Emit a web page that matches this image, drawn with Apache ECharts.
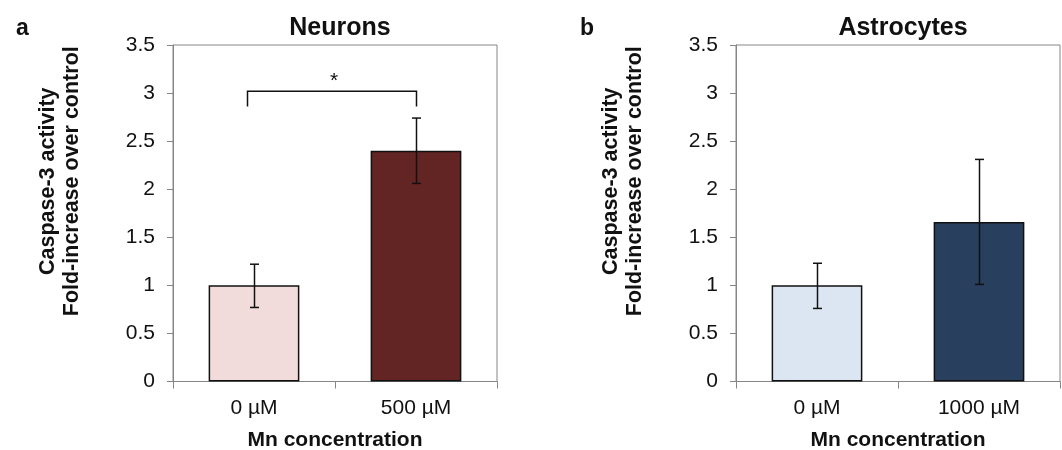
<!DOCTYPE html>
<html>
<head>
<meta charset="utf-8">
<script src="https://cdn.jsdelivr.net/npm/echarts@6/dist/echarts.min.js"></script>
<style>
html,body{margin:0;padding:0;background:#fff;}
#chart{width:1062px;height:450px;}
</style>
</head>
<body>
<div id="chart"></div>
<script>
// ---- data ----
var panelLabels = ['a', 'b'];
var panelTitles = ['Neurons', 'Astrocytes'];
var neuronCategories = ['0 µM', '500 µM'];
var neuronValues = [1.0, 2.40];
var neuronErrLow = [0.77, 2.06];
var neuronErrHigh = [1.22, 2.74];
var astroCategories = ['0 µM', '1000 µM'];
var astroValues = [1.0, 1.66];
var astroErrLow = [0.76, 1.01];
var astroErrHigh = [1.23, 2.31];
var neuronColors = ['#F2DCDB', '#632523'];
var astroColors = ['#DCE6F2', '#283F5E'];
var yTicks = [0, 0.5, 1, 1.5, 2, 2.5, 3, 3.5];
var yAxisName = 'Caspase-3 activity\nFold-increase over control';
var xAxisName = 'Mn concentration';
var sigBracket = { from: 0, to: 1, top: 3.02, legBottom: 2.86, label: '*' };

var FONT = '"Liberation Sans", Arial, sans-serif';
var chart = echarts.init(document.getElementById('chart'), null, {renderer: 'canvas'});

function xAxisCfg(idx, cats) {
  return {
    type: 'category', gridIndex: idx, data: cats,
    axisLine: {lineStyle: {color: '#868686', width: 1}},
    axisTick: {show: true, length: 7, lineStyle: {color: '#868686'}},
    axisLabel: {color: '#111', fontSize: 21, fontFamily: FONT, margin: 16},
    name: xAxisName, nameLocation: 'middle', nameGap: 48,
    nameTextStyle: {color: '#111', fontSize: 21, fontWeight: 'bold', fontFamily: FONT}
  };
}
function yAxisCfg(idx) {
  return {
    type: 'value', gridIndex: idx, min: yTicks[0], max: yTicks[yTicks.length - 1],
    interval: yTicks[1] - yTicks[0],
    splitLine: {show: false},
    axisLine: {show: true, lineStyle: {color: '#868686', width: 1}},
    axisTick: {show: true, length: 6, lineStyle: {color: '#868686'}},
    axisLabel: {color: '#111', fontSize: 21, fontFamily: FONT, margin: 18},
    name: yAxisName, nameLocation: 'middle', nameRotate: 90, nameGap: 89,
    nameTextStyle: {color: '#111', fontSize: 21.5, fontWeight: 'bold', fontFamily: FONT,
      lineHeight: 24, padding: [0, 0, 0, 64]}
  };
}
function barData(vals, cols) {
  return vals.map(function (v, i) {
    return {value: v, itemStyle: {color: cols[i], borderColor: '#111', borderWidth: 1.5}};
  });
}
function errData(lo, hi) {
  return lo.map(function (l, i) { return [i, l, hi[i]]; });
}
function errRender(params, api) {
  var lo = api.coord([api.value(0), api.value(1)]);
  var hi = api.coord([api.value(0), api.value(2)]);
  var x = Math.round(lo[0]) + 0.5, cap = 4.5;
  var st = {stroke: '#111', lineWidth: 1.5};
  return {type: 'group', children: [
    {type: 'line', shape: {x1: x, y1: lo[1], x2: x, y2: hi[1]}, style: st},
    {type: 'line', shape: {x1: x - cap, y1: hi[1], x2: x + cap, y2: hi[1]}, style: st},
    {type: 'line', shape: {x1: x - cap, y1: lo[1], x2: x + cap, y2: lo[1]}, style: st}
  ]};
}
function bracketRender(params, api) {
  var a = api.coord([sigBracket.from, sigBracket.legBottom]);
  var b = api.coord([sigBracket.from, sigBracket.top]);
  var c = api.coord([sigBracket.to, sigBracket.top]);
  var d = api.coord([sigBracket.to, sigBracket.legBottom]);
  var ax = Math.round(a[0]) - 6.5, dx = Math.round(d[0]) + 0.5;
  return {type: 'group', children: [
    {type: 'polyline', shape: {points: [[ax, a[1]], [ax, b[1]], [dx, c[1]], [dx, d[1]]]},
      style: {stroke: '#111', lineWidth: 1.5, fill: null}},
    {type: 'text', x: (ax + dx) / 2 + 2, y: b[1] + 1,
      style: {text: sigBracket.label, fill: '#111', fontSize: 21, fontFamily: FONT,
        textAlign: 'center', textVerticalAlign: 'bottom'}}
  ]};
}

var gridBase = {width: 324, height: 336.5, top: 45, show: true, borderColor: '#868686', borderWidth: 1,
  backgroundColor: 'transparent', containLabel: false, outerBoundsMode: 'none'};
var option = {
  animation: false,
  backgroundColor: '#fff',
  title: [
    {text: panelLabels[0], left: 11, top: 12, textStyle: {fontSize: 23, fontWeight: 'bold', color: '#111', fontFamily: FONT}},
    {text: panelLabels[1], left: 575, top: 12, textStyle: {fontSize: 23, fontWeight: 'bold', color: '#111', fontFamily: FONT}},
    {text: panelTitles[0], left: 335, top: 11, textAlign: 'center', textStyle: {fontSize: 25, fontWeight: 'bold', color: '#111', fontFamily: FONT}},
    {text: panelTitles[1], left: 898, top: 11, textAlign: 'center', textStyle: {fontSize: 25, fontWeight: 'bold', color: '#111', fontFamily: FONT}}
  ],
  grid: [
    Object.assign({left: 173}, gridBase),
    Object.assign({left: 736}, gridBase)
  ],
  xAxis: [xAxisCfg(0, neuronCategories), xAxisCfg(1, astroCategories)],
  yAxis: [yAxisCfg(0), yAxisCfg(1)],
  series: [
    {type: 'bar', xAxisIndex: 0, yAxisIndex: 0, barWidth: '56%', data: barData(neuronValues, neuronColors)},
    {type: 'bar', xAxisIndex: 1, yAxisIndex: 1, barWidth: '56%', data: barData(astroValues, astroColors)},
    {type: 'custom', xAxisIndex: 0, yAxisIndex: 0, renderItem: errRender, data: errData(neuronErrLow, neuronErrHigh), z: 5},
    {type: 'custom', xAxisIndex: 1, yAxisIndex: 1, renderItem: errRender, data: errData(astroErrLow, astroErrHigh), z: 5},
    {type: 'custom', xAxisIndex: 0, yAxisIndex: 0, renderItem: bracketRender, data: [[0]], z: 5}
  ]
};
chart.setOption(option);
</script>
</body>
</html>
